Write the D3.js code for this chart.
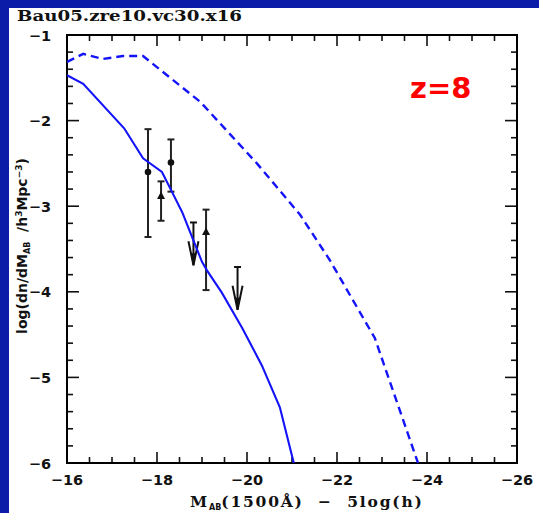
<!DOCTYPE html>
<html><head><meta charset="utf-8">
<script src="https://cdn.jsdelivr.net/npm/d3@7"></script>
<style>html,body{margin:0;padding:0;background:#fff;}svg{display:block;}text{white-space:pre;}</style>
</head><body>
<script>
// ---- data ----
const solidX = [-16, -16.36, -17.27, -17.69, -18.11, -18.33, -18.56, -18.78, -19.0, -19.11, -19.44, -19.89, -20.33, -20.73, -21.04];
const solidY = [-1.47, -1.57, -2.09, -2.44, -2.60, -2.83, -3.07, -3.36, -3.65, -3.75, -4.01, -4.42, -4.86, -5.35, -6.0];
const dashX = [-16, -16.36, -16.8, -17.24, -17.69, -18.96, -20.22, -21.18, -21.84, -22.84, -23.80];
const dashY = [-1.315, -1.22, -1.28, -1.245, -1.245, -1.78, -2.50, -3.10, -3.63, -4.54, -6.0];
// observed points: x, y, lower, upper, marker
const obsX = [-17.8, -18.09, -18.31, -19.09];
const obsY = [-2.60, -2.88, -2.49, -3.30];
const obsLo = [-3.36, -3.17, -2.83, -3.98];
const obsHi = [-2.10, -2.71, -2.22, -3.04];
const obsShape = ["circle", "triangle", "circle", "triangle"];
// upper limits: x, cap value, arrow tip value
const limX = [-18.81, -19.79];
const limCap = [-3.19, -3.71];
const limTip = [-3.69, -4.21];
const xTicks = [-16, -18, -20, -22, -24, -26];
const yTicks = [-1, -2, -3, -4, -5, -6];

const W = 539, H = 513;
const svg = d3.select("body").append("svg").attr("width", W).attr("height", H);
svg.append("rect").attr("width", W).attr("height", H).attr("fill", "#fff");
svg.append("rect").attr("x", 0).attr("y", 0).attr("width", W).attr("height", 8).attr("fill", "#0a1ca8");
svg.append("rect").attr("x", 0).attr("y", 0).attr("width", 9).attr("height", H).attr("fill", "#0a1ca8");

const L = 67, R = 517, T = 35, B = 463;
const x = d3.scaleLinear().domain([-16, -26]).range([L, R]);
const y = d3.scaleLinear().domain([-1, -6]).range([T, B]);

const g = svg.append("g");
svg.append("clipPath").attr("id", "clip").append("rect").attr("x", L).attr("y", T).attr("width", R - L).attr("height", B - T);

// ticks (inward on all sides)
const tickStroke = "#111";
const xMinor = d3.range(-16, -26.001, -0.5);
const yMinor = d3.range(-1, -6.001, -0.2);
xMinor.forEach(v => {
  const major = Math.abs(v % 2) < 1e-6;
  const len = major ? 11 : 6;
  g.append("line").attr("x1", x(v)).attr("x2", x(v)).attr("y1", B).attr("y2", B - len).attr("stroke", tickStroke).attr("stroke-width", 1.6);
  g.append("line").attr("x1", x(v)).attr("x2", x(v)).attr("y1", T).attr("y2", T + len).attr("stroke", tickStroke).attr("stroke-width", 1.6);
});
yMinor.forEach(v => {
  const major = Math.abs(v - Math.round(v)) < 1e-6;
  const len = major ? 12 : 6;
  g.append("line").attr("y1", y(v)).attr("y2", y(v)).attr("x1", L).attr("x2", L + len).attr("stroke", tickStroke).attr("stroke-width", 1.6);
  g.append("line").attr("y1", y(v)).attr("y2", y(v)).attr("x1", R).attr("x2", R - len).attr("stroke", tickStroke).attr("stroke-width", 1.6);
});
g.append("rect").attr("x", L).attr("y", T).attr("width", R - L).attr("height", B - T)
  .attr("fill", "none").attr("stroke", "#000").attr("stroke-width", 2);

// tick labels
const tickFont = "'DejaVu Sans', sans-serif";
xTicks.forEach(v => {
  svg.append("text").attr("x", x(v)).attr("y", 485).attr("text-anchor", "middle")
    .attr("font-family", tickFont).attr("font-weight", "bold").attr("font-size", 14.5).attr("fill", "#111")
    .text("\u2212" + Math.abs(v));
});
yTicks.forEach(v => {
  svg.append("text").attr("x", 51).attr("y", y(v) + 5.5).attr("text-anchor", "end")
    .attr("font-family", tickFont).attr("font-weight", "bold").attr("font-size", 14.5).attr("fill", "#111")
    .text("\u2212" + Math.abs(v));
});

// lines
const pl = svg.append("g").attr("clip-path", "url(#clip)");
const lineGen = d3.line().x(d => x(d[0])).y(d => y(d[1]));
pl.append("path").datum(solidX.map((v, i) => [v, solidY[i]])).attr("d", lineGen)
  .attr("fill", "none").attr("stroke", "#1414fa").attr("stroke-width", 2.1);
pl.append("path").datum(dashX.map((v, i) => [v, dashY[i]])).attr("d", lineGen)
  .attr("fill", "none").attr("stroke", "#1414fa").attr("stroke-width", 2.4).attr("stroke-dasharray", "8,5");

// error bars
const ec = "#222";
obsX.forEach((v, i) => {
  const cx = x(v);
  g.append("line").attr("x1", cx).attr("x2", cx).attr("y1", y(obsHi[i])).attr("y2", y(obsLo[i])).attr("stroke", ec).attr("stroke-width", 2);
  [obsHi[i], obsLo[i]].forEach(e => g.append("line").attr("x1", cx - 3.5).attr("x2", cx + 3.5).attr("y1", y(e)).attr("y2", y(e)).attr("stroke", ec).attr("stroke-width", 2));
  const cy = y(obsY[i]);
  if (obsShape[i] === "circle") {
    g.append("circle").attr("cx", cx).attr("cy", cy).attr("r", 3.3).attr("fill", "#111");
  } else {
    g.append("path").attr("d", `M${cx},${cy - 4.5}L${cx + 4},${cy + 3}L${cx - 4},${cy + 3}Z`).attr("fill", "#111");
  }
});
limX.forEach((v, i) => {
  const cx = x(v), yc = y(limCap[i]), yt = y(limTip[i]);
  g.append("line").attr("x1", cx).attr("x2", cx).attr("y1", yc).attr("y2", yt).attr("stroke", "#111").attr("stroke-width", 2);
  g.append("line").attr("x1", cx - 3.5).attr("x2", cx + 3.5).attr("y1", yc).attr("y2", yc).attr("stroke", "#111").attr("stroke-width", 2);
  g.append("path").attr("d", `M${cx - 5},${yt - 24}L${cx},${yt}L${cx + 5},${yt - 24}`).attr("fill", "none").attr("stroke", "#111").attr("stroke-width", 2);
  g.append("path").attr("d", `M${cx - 3},${yt - 12}L${cx},${yt}L${cx + 3},${yt - 12}Z`).attr("fill", "#111");
});

// title
svg.append("text").attr("x", 17).attr("y", 21).attr("font-family", "'DejaVu Serif', serif").attr("font-weight", "bold")
  .attr("font-size", 15).attr("fill", "#111").attr("textLength", 225).attr("lengthAdjust", "spacingAndGlyphs")
  .text("Bau05.zre10.vc30.x16");

// z=8
svg.append("text").attr("x", 410).attr("y", 98).attr("font-family", "'DejaVu Sans', sans-serif").attr("font-weight", "bold")
  .attr("font-size", 29).attr("fill", "#ff0000").text("z=8");

// x label
const xl = svg.append("text").attr("x", 190).attr("y", 507).attr("font-family", "'DejaVu Serif', serif").attr("font-weight", "bold")
  .attr("font-size", 15.5).attr("fill", "#111").attr("letter-spacing", 1.8);
xl.append("tspan").text("M");
xl.append("tspan").attr("font-size", 8).attr("dy", 3).attr("font-family", "'DejaVu Sans', sans-serif").attr("letter-spacing", 0).text("AB");
xl.append("tspan").attr("dy", -3).text("(1500\u00C5)  \u2212  5log(h)");

// y label
const yl = svg.append("text").attr("transform", "translate(27,246) rotate(-90)").attr("text-anchor", "middle")
  .attr("font-family", "'DejaVu Sans', sans-serif").attr("font-weight", "bold").attr("font-size", 14).attr("fill", "#111");
yl.append("tspan").text("log(dn/dM");
yl.append("tspan").attr("font-size", 8).attr("dy", 3).text("AB");
yl.append("tspan").attr("dy", -3).text("  /h");
yl.append("tspan").attr("font-size", 9).attr("dy", -5).text("3");
yl.append("tspan").attr("dy", 5).text("Mpc");
yl.append("tspan").attr("font-size", 9).attr("dy", -5).text("\u22123");
yl.append("tspan").attr("dy", 5).text(")");
</script>
</body></html>
